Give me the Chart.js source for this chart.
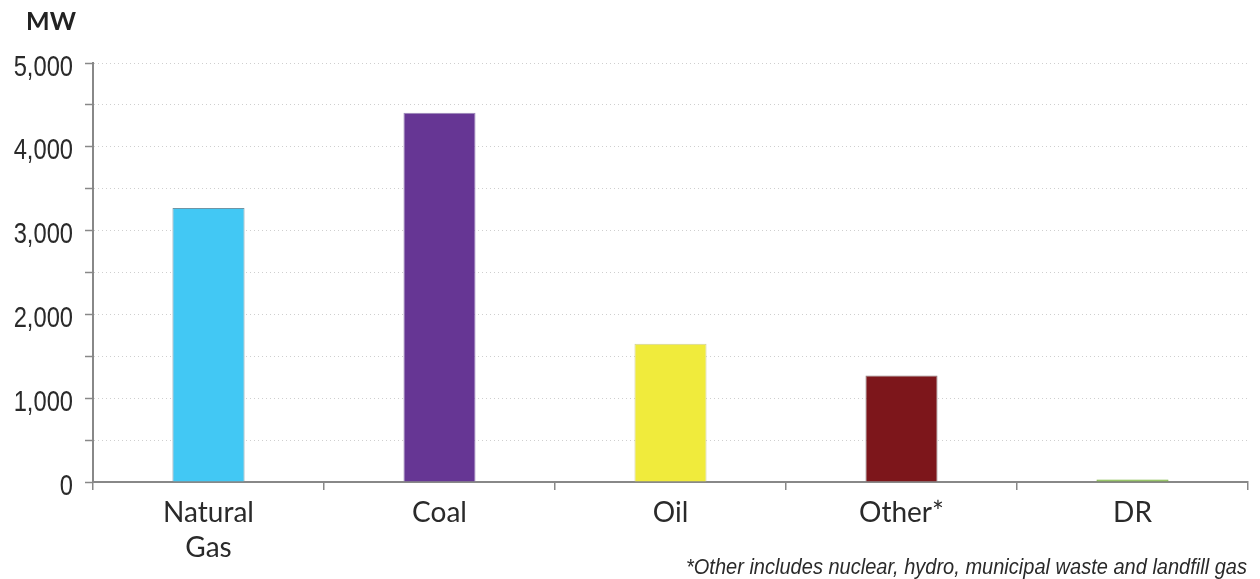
<!DOCTYPE html>
<html>
<head>
<meta charset="utf-8">
<title>Capacity by fuel type</title>
<script src="https://cdn.jsdelivr.net/npm/chart.js@4.4.1/dist/chart.umd.min.js"></script>
<style>
  html, body { margin: 0; padding: 0; background: #ffffff; }
  #wrap { position: relative; width: 1260px; height: 579px; }
</style>
</head>
<body>
<div id="wrap"><canvas id="chart" width="1260" height="579"></canvas></div>
<script>
// Capacity (MW) by fuel category
const categories = [['Natural', 'Gas'], 'Coal', 'Oil', 'Other*', 'DR'];
const capacityMW = [3270, 4405, 1650, 1270, 30];
const barColors = ['#42c8f4', '#663694', '#f0eb3c', '#7d161b', '#78b33b'];
const barBorders = ['#6f95a6', '#9c88b8', '#cfcf9a', '#8a7a7b', '#78b33b'];
const yTicks = [0, 500, 1000, 1500, 2000, 2500, 3000, 3500, 4000, 4500, 5000];
const unitLabel = 'MW';
const footnote = '*Other includes nuclear, hydro, municipal waste and landfill gas';

// Narrow type: Liberation Sans squeezed horizontally
function narrowText(ctx, text, x, y, font, squeeze) {
  ctx.save();
  ctx.font = font;
  ctx.textAlign = 'right';
  ctx.textBaseline = 'alphabetic';
  ctx.translate(x, y);
  ctx.scale(squeeze, 1);
  ctx.fillText(text, 0, 0);
  ctx.restore();
}

const textPlugin = {
  id: 'extraText',
  afterDraw(chart) {
    const ctx = chart.ctx;
    const yScale = chart.scales.y;
    ctx.save();
    ctx.fillStyle = '#2a2a2a';
    // y-axis labels every 1,000 MW
    yScale.ticks.forEach(t => {
      if (t.value % 1000 !== 0) return;
      const py = yScale.getPixelForValue(t.value);
      narrowText(ctx, t.value.toLocaleString('en-US'), 73, py + 12.5, '30px "Liberation Sans"', 0.79);
    });
    // unit
    ctx.fillStyle = '#222222';
    ctx.textAlign = 'left';
    ctx.textBaseline = 'alphabetic';
    ctx.font = 'bold 25px Lato';
    ctx.fillText(unitLabel, 26, 30);
    // footnote
    ctx.fillStyle = '#2a2a2a';
    narrowText(ctx, footnote, 1247, 574, 'italic 22.5px "Liberation Sans"', 0.89);
    ctx.restore();
  }
};

new Chart(document.getElementById('chart'), {
  type: 'bar',
  data: {
    labels: categories,
    datasets: [{
      data: capacityMW,
      backgroundColor: barColors,
      borderColor: barBorders,
      borderWidth: 1,
      categoryPercentage: 1,
      barPercentage: 0.312
    }]
  },
  options: {
    responsive: false,
    animation: false,
    layout: { padding: { left: 0, right: 12, top: 63, bottom: 0 } },
    plugins: { legend: { display: false }, tooltip: { enabled: false } },
    scales: {
      x: {
        afterFit(scale) { scale.height = 97; },
        grid: { offset: true, drawOnChartArea: false, drawTicks: true, tickLength: 8, color: '#888888', lineWidth: 1.5 },
        border: { color: '#888888', width: 2 },
        ticks: { color: '#2a2a2a', font: { family: 'Lato', size: 28, lineHeight: 1.25 }, padding: 5, maxRotation: 0, autoSkip: false }
      },
      y: {
        min: 0,
        max: 5000,
        afterFit(scale) { scale.width = 93; },
        afterBuildTicks(scale) { scale.ticks = yTicks.map(v => ({ value: v })); },
        grid: { color: '#cfcfcf', lineWidth: 1, tickColor: '#888888', tickWidth: 1.5, tickLength: 8 },
        border: { color: '#888888', width: 2, dash: [1, 3] },
        ticks: { display: false }
      }
    }
  },
  plugins: [textPlugin]
});
</script>
</body>
</html>
